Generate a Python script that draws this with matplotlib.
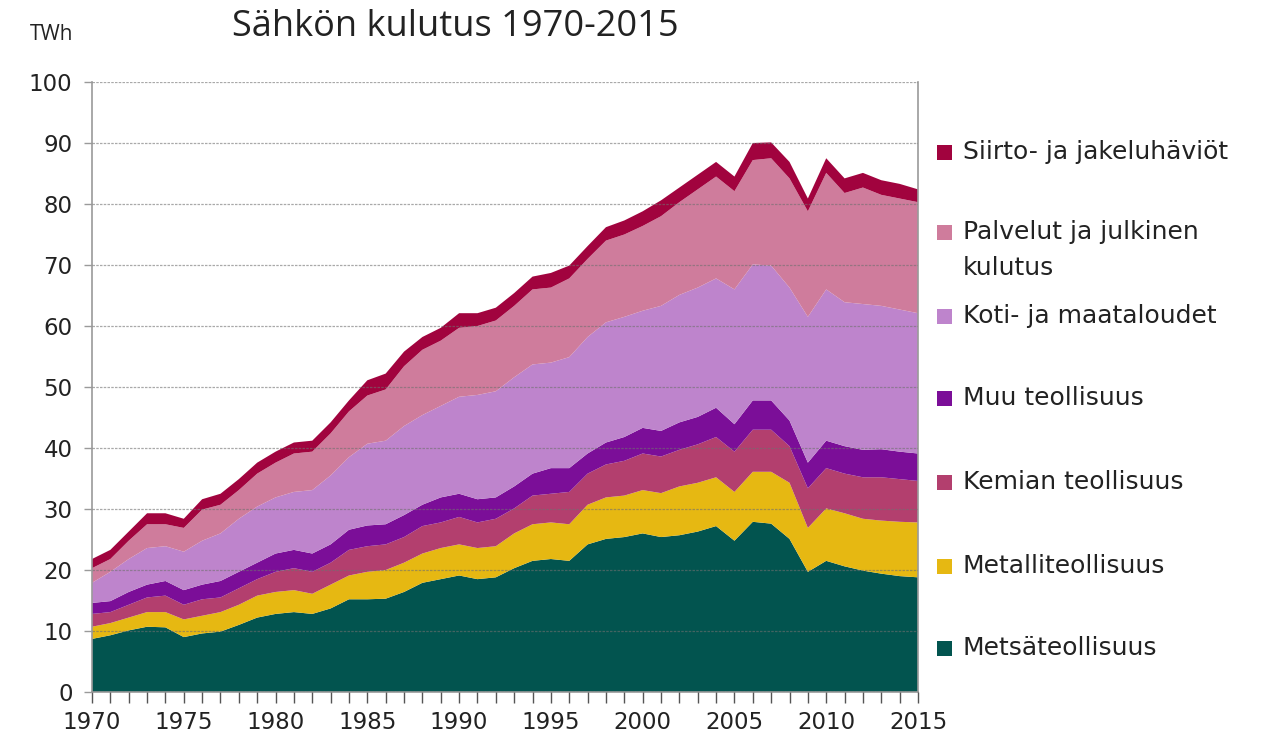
import matplotlib
matplotlib.use("Agg")
import matplotlib.pyplot as plt
from matplotlib.patches import Rectangle
import numpy as np

years = list(range(1970, 2016))

metsa = [8.7, 9.3, 10.1, 10.7, 10.6, 9.0, 9.6, 9.9, 11.0, 12.2,
         12.8, 13.1, 12.8, 13.7, 15.2, 15.2, 15.3, 16.4, 17.9, 18.5,
         19.1, 18.5, 18.8, 20.3, 21.5, 21.8, 21.5, 24.2, 25.1, 25.4,
         26.0, 25.4, 25.7, 26.3, 27.2, 24.8, 27.9, 27.6, 25.1, 19.7,
         21.5, 20.6, 19.9, 19.4, 19.0, 18.8]
metalli = [2.0, 2.0, 2.1, 2.4, 2.5, 2.9, 2.9, 3.2, 3.3, 3.6,
           3.6, 3.6, 3.3, 3.9, 3.9, 4.5, 4.7, 4.8, 4.8, 5.1,
           5.1, 5.1, 5.1, 5.7, 6.0, 6.0, 6.0, 6.5, 6.8, 6.8,
           7.1, 7.2, 8.0, 8.0, 8.0, 8.0, 8.2, 8.5, 9.2, 7.2,
           8.6, 8.7, 8.5, 8.7, 8.9, 9.0]
kemian = [2.1, 1.8, 2.1, 2.4, 2.7, 2.4, 2.7, 2.4, 2.7, 2.7,
          3.3, 3.6, 3.6, 3.6, 4.2, 4.2, 4.2, 4.2, 4.5, 4.2,
          4.5, 4.2, 4.5, 4.1, 4.7, 4.7, 5.3, 5.1, 5.4, 5.7,
          6.0, 6.0, 6.0, 6.3, 6.6, 6.6, 6.9, 6.9, 6.0, 6.5,
          6.6, 6.5, 6.8, 7.1, 7.0, 6.8]
muu = [1.8, 1.8, 2.1, 2.1, 2.4, 2.4, 2.4, 2.7, 2.7, 2.7,
       3.0, 3.0, 3.0, 3.0, 3.3, 3.4, 3.3, 3.6, 3.5, 4.1,
       3.8, 3.8, 3.5, 3.6, 3.6, 4.2, 3.9, 3.3, 3.6, 3.9,
       4.2, 4.2, 4.5, 4.5, 4.8, 4.5, 4.8, 4.8, 4.2, 4.2,
       4.5, 4.5, 4.5, 4.6, 4.5, 4.5]
koti = [3.3, 4.8, 5.4, 6.0, 5.7, 6.3, 7.2, 7.8, 8.7, 9.2,
        9.2, 9.5, 10.4, 11.3, 11.9, 13.4, 13.7, 14.6, 14.7, 15.0,
        15.9, 17.1, 17.4, 17.9, 17.9, 17.3, 18.2, 19.1, 19.7, 19.7,
        19.2, 20.5, 20.9, 21.2, 21.2, 22.1, 22.3, 22.1, 21.8, 23.9,
        24.8, 23.6, 23.9, 23.5, 23.3, 23.0]
palvelut = [2.4, 2.1, 3.0, 3.9, 3.6, 3.9, 5.1, 4.7, 4.7, 5.4,
            5.7, 6.3, 6.3, 6.9, 7.5, 7.9, 8.4, 9.8, 10.7, 10.7,
            11.3, 11.3, 11.6, 11.7, 12.3, 12.3, 12.9, 12.8, 13.4, 13.5,
            13.9, 14.7, 15.2, 16.1, 16.7, 16.1, 17.1, 17.6, 17.9, 17.3,
            19.1, 17.9, 19.1, 18.2, 18.2, 18.2]
siirto = [1.5, 1.5, 1.5, 1.8, 1.8, 1.5, 1.7, 1.8, 1.8, 1.8,
          1.8, 1.8, 1.8, 1.8, 1.8, 2.5, 2.6, 2.4, 2.1, 2.1,
          2.4, 2.1, 2.1, 2.1, 2.1, 2.4, 2.1, 2.1, 2.2, 2.3,
          2.4, 2.6, 2.4, 2.4, 2.4, 2.4, 2.8, 2.6, 2.7, 2.1,
          2.4, 2.4, 2.4, 2.4, 2.4, 2.1]

labels = ["Metsäteollisuus", "Metalliteollisuus", "Kemian teollisuus",
          "Muu teollisuus", "Koti- ja maataloudet",
          "Palvelut ja julkinen\nkulutus", "Siirto- ja jakeluhäviöt"]
colors = ["#02544F", "#E6B812", "#B33F6E", "#7B0E98",
          "#BE84CC", "#CF7C9C", "#A1033E"]

W, H = 1261, 743
fig = plt.figure(figsize=(W / 100, H / 100), dpi=100)
fig.patch.set_facecolor("white")
font = "DejaVu Sans"

ax = fig.add_axes([92 / W, 1 - 692 / H, (918 - 92) / W, (692 - 82) / H])
ax.stackplot(years, metsa, metalli, kemian, muu, koti, palvelut, siirto,
             colors=colors, linewidth=0)

ax.set_xlim(1970, 2015)
ax.set_ylim(0, 100)
ax.set_yticks(range(0, 101, 10))
ax.set_xticks(range(1970, 2016, 5))
ax.set_xticks(years, minor=True)
ax.grid(axis="y", color="#707070", linestyle=(0, (2, 1)), linewidth=0.9, alpha=0.6)
ax.set_axisbelow(False)
for s in ["left", "right", "bottom", "top"]:
    ax.spines[s].set_color("#9a9a9a")
    ax.spines[s].set_linewidth(1.2)
ax.spines["top"].set_visible(False)
ax.tick_params(axis="y", direction="out", length=6, width=1, color="#9a9a9a",
               labelsize=16.5, pad=8, labelcolor="#222222")
ax.tick_params(axis="x", which="both", direction="out", length=8, width=1,
               color="#555555", labelsize=16.5, pad=6, labelcolor="#222222")
for t in ax.get_xticklabels() + ax.get_yticklabels():
    t.set_fontfamily(font)

fig.text(232 / W, 1 - 27 / H, "Sähkön kulutus 1970-2015", fontsize=26,
         family="Open Sans", color="#222222", va="center", ha="left")
fig.text(30 / W, 1 - 34 / H, "TWh", fontsize=15, family="Open Sans",
         color="#222222", va="center", ha="left")

legend_y = [648, 566, 482, 398, 316, 232, 152]
for lab, col, yc in zip(labels, colors, legend_y):
    fig.patches.append(Rectangle((937 / W, 1 - (yc + 8) / H), 15 / W, 15 / H,
                                 transform=fig.transFigure, facecolor=col,
                                 edgecolor="none"))
    for i, line in enumerate(lab.split("\n")):
        fig.text(963 / W, 1 - (yc + i * 36) / H, line, fontsize=18,
                 family=font, color="#222222", va="center", ha="left")

fig.savefig("out.png", dpi=100, facecolor="white")
